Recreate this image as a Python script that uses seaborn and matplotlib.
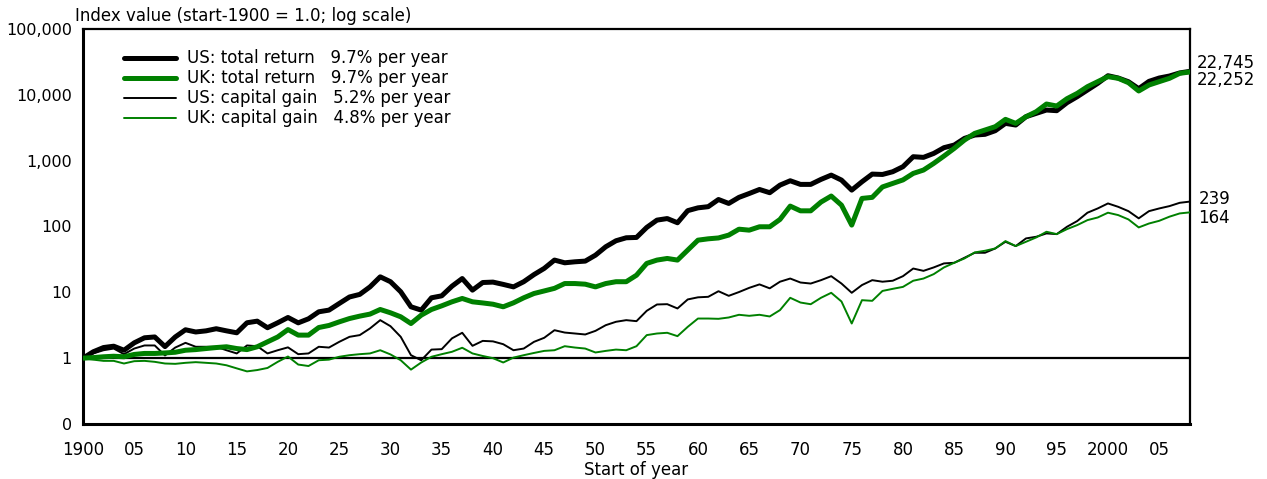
import numpy as np
import pandas as pd
import matplotlib
matplotlib.use("Agg")
import matplotlib.pyplot as plt
import seaborn as sns

years = list(range(1900, 2009))

us_total = [
    1.0, 1.25, 1.45, 1.52, 1.32, 1.71, 2.04, 2.1, 1.5, 2.1,
    2.7, 2.5, 2.6, 2.8, 2.6, 2.43, 3.45, 3.65, 2.9, 3.45,
    4.15, 3.44, 3.96, 5.06, 5.37, 6.77, 8.5, 9.3, 12.1, 17.2,
    14.5, 10.2, 6.03, 5.37, 8.26, 8.85, 12.4, 16.2, 10.8, 14.1,
    14.3, 13.2, 12.1, 14.5, 18.6, 23.1, 30.9, 28.1, 29.1, 29.8,
    36.7, 49.2, 60.7, 67.4, 68.2, 96.8, 125, 132, 114, 174,
    192, 200, 257, 224, 277, 317, 365, 326, 425, 495,
    436, 436, 519, 603, 507, 357, 478, 625, 617, 679,
    810, 1148, 1122, 1288, 1574, 1726, 2178, 2449, 2511, 2851,
    3684, 3477, 4652, 5228, 5875, 5741, 7590, 9370, 11830, 14930,
    19500, 18000, 15800, 12400, 16000, 18000, 19300, 21500, 22745,
]

uk_total = [
    1.0, 1.02, 1.05, 1.07, 1.05, 1.14, 1.18, 1.18, 1.2, 1.23,
    1.32, 1.35, 1.4, 1.45, 1.49, 1.4, 1.35, 1.49, 1.77, 2.1,
    2.72, 2.24, 2.24, 2.92, 3.14, 3.56, 4.0, 4.35, 4.67, 5.49,
    4.89, 4.25, 3.36, 4.5, 5.49, 6.24, 7.18, 8.07, 7.18, 6.9,
    6.6, 6.03, 6.93, 8.26, 9.6, 10.5, 11.5, 13.6, 13.6, 13.3,
    12.1, 13.6, 14.5, 14.5, 18.2, 27.5, 30.9, 32.7, 30.9, 43.8,
    62, 65, 67, 74, 91, 88, 99, 99, 128, 204,
    173, 173, 235, 290, 211, 105, 267, 277, 399, 451,
    510, 640, 720, 909, 1175, 1535, 2055, 2596, 2918, 3280,
    4240, 3684, 4652, 5546, 7250, 6760, 8730, 10520, 13300, 15850,
    18880, 17800, 15280, 11430, 14090, 15850, 17800, 21200, 22252,
]

us_capital = [
    1.0, 1.18, 1.32, 1.4, 1.15, 1.4, 1.56, 1.56, 1.1, 1.45,
    1.71, 1.49, 1.49, 1.49, 1.32, 1.18, 1.56, 1.52, 1.18, 1.32,
    1.46, 1.15, 1.18, 1.49, 1.45, 1.77, 2.11, 2.24, 2.83, 3.78,
    3.06, 2.11, 1.11, 0.93, 1.35, 1.37, 2.0, 2.43, 1.54, 1.83,
    1.8, 1.63, 1.32, 1.40, 1.77, 2.04, 2.66, 2.45, 2.37, 2.29,
    2.6, 3.17, 3.57, 3.78, 3.65, 5.24, 6.54, 6.61, 5.69, 7.8,
    8.4, 8.55, 10.4, 8.85, 10.1, 11.7, 13.2, 11.5, 14.5, 16.2,
    14.1, 13.6, 15.3, 17.6, 13.6, 9.84, 12.9, 15.3, 14.5, 15.0,
    17.6, 23.0, 21.2, 23.9, 27.5, 28.1, 33.5, 39.9, 39.9, 46.4,
    58.6, 50.4, 65.9, 69.8, 78.5, 76.6, 99, 121, 162, 188,
    224, 199, 171, 133, 171, 188, 204, 229, 239,
]

uk_capital = [
    1.0, 0.95, 0.91, 0.91, 0.83, 0.9, 0.91, 0.88, 0.83, 0.82,
    0.85, 0.87, 0.85, 0.83, 0.78, 0.70, 0.63, 0.66, 0.71, 0.88,
    1.06, 0.80, 0.76, 0.93, 0.95, 1.05, 1.11, 1.15, 1.18, 1.32,
    1.14, 0.93, 0.67, 0.86, 1.05, 1.15, 1.25, 1.44, 1.18, 1.08,
    1.0, 0.86, 1.02, 1.11, 1.2, 1.29, 1.32, 1.52, 1.45, 1.40,
    1.22, 1.29, 1.35, 1.32, 1.52, 2.24, 2.37, 2.43, 2.16, 2.99,
    4.0, 4.0, 3.96, 4.15, 4.56, 4.4, 4.56, 4.3, 5.37, 8.26,
    7.0, 6.6, 8.26, 9.84, 7.26, 3.36, 7.6, 7.43, 10.5, 11.3,
    12.1, 15.0, 16.2, 18.9, 23.9, 28.1, 32.7, 40.4, 42.8, 46.4,
    60, 50.4, 58.6, 68.2, 83.2, 76.6, 91.2, 105, 125, 137,
    162, 149, 128, 96.8, 111, 122, 141, 158, 164,
]

series_labels = [
    "US: total return   9.7% per year",
    "UK: total return   9.7% per year",
    "US: capital gain   5.2% per year",
    "UK: capital gain   4.8% per year",
]
end_labels = ["22,745", "22,252", "239", "164"]

y_ticks = [0.1, 1, 10, 100, 1000, 10000, 100000]
y_ticklabels = ["0", "1", "10", "100", "1,000", "10,000", "100,000"]
x_ticks = list(range(1900, 2006, 5))
x_ticklabels = ["1900"] + [f"{t % 100:02d}" for t in x_ticks[1:20]] + ["2000", "05"]

sns.set_theme(style="white")
plt.rcParams["font.family"] = ["DejaVu Sans"]
plt.rcParams["font.size"] = 12
plt.rcParams["text.color"] = "black"
plt.rcParams["axes.labelcolor"] = "black"
plt.rcParams["xtick.color"] = "black"
plt.rcParams["ytick.color"] = "black"

frames = []
for lab, vals in zip(series_labels, [us_total, uk_total, us_capital, uk_capital]):
    frames.append(pd.DataFrame({"year": years, "value": vals, "series": lab}))
df = pd.concat(frames, ignore_index=True)

GREEN = "#008000"
colors = {series_labels[0]: "black", series_labels[1]: GREEN,
          series_labels[2]: "black", series_labels[3]: GREEN}
widths = {series_labels[0]: 3.6, series_labels[1]: 3.6,
          series_labels[2]: 1.4, series_labels[3]: 1.4}

fig = plt.figure(figsize=(12.67, 4.79), dpi=100)
ax = fig.add_axes([0.0655, 0.1148, 0.8737, 0.8247])

ax.axhline(1, color="black", lw=1.6, zorder=1)

# capital-gain lines underneath, total-return lines on top
order = [series_labels[2], series_labels[3], series_labels[0], series_labels[1]]
for lab in order:
    sub = df[df["series"] == lab]
    sns.lineplot(data=sub, x="year", y="value", ax=ax, color=colors[lab],
                 lw=widths[lab], label=lab, zorder=3, estimator=None)

ax.set_yscale("log")
ax.set_ylim(0.1, 100000)
ax.set_xlim(1900, 2008)
ax.set_yticks(y_ticks)
ax.set_yticklabels(y_ticklabels)
ax.yaxis.set_minor_locator(matplotlib.ticker.NullLocator())
ax.set_xticks(x_ticks)
ax.set_xticklabels(x_ticklabels)
ax.tick_params(axis="both", which="major", direction="out", length=5, width=1.5,
               color="black", labelcolor="black", pad=3)
ax.tick_params(axis="y", labelsize=11.5)
ax.tick_params(axis="x", labelsize=12, pad=7)
ax.set_ylabel("")
ax.set_xlabel("Start of year", fontsize=12, labelpad=2, color="black")

for side in ["left", "bottom"]:
    ax.spines[side].set_linewidth(2.2)
    ax.spines[side].set_color("black")
for side in ["top", "right"]:
    ax.spines[side].set_linewidth(1.6)
    ax.spines[side].set_color("black")
    ax.spines[side].set_visible(True)

handles, labels = ax.get_legend_handles_labels()
hmap = dict(zip(labels, handles))
leg = ax.legend([hmap[l] for l in series_labels], series_labels, loc="upper left",
                bbox_to_anchor=(0.031, 0.965), frameon=False, fontsize=12,
                handlelength=3.1, handletextpad=0.7, labelspacing=0.12,
                borderaxespad=0)
for t in leg.get_texts():
    t.set_color("black")

offsets = [(5, 6), (5, -6), (6, 2), (6, -4)]
for vals, txt, off in zip([us_total, uk_total, us_capital, uk_capital], end_labels, offsets):
    ax.annotate(txt, xy=(years[-1], vals[-1]), xytext=off, textcoords="offset points",
                ha="left", va="center", fontsize=12, color="black",
                annotation_clip=False)

fig.text(75 / 1267, 1 - 16 / 479, "Index value (start-1900 = 1.0; log scale)",
         ha="left", va="center", fontsize=12, color="black")

fig.savefig("out.png", dpi=100)
